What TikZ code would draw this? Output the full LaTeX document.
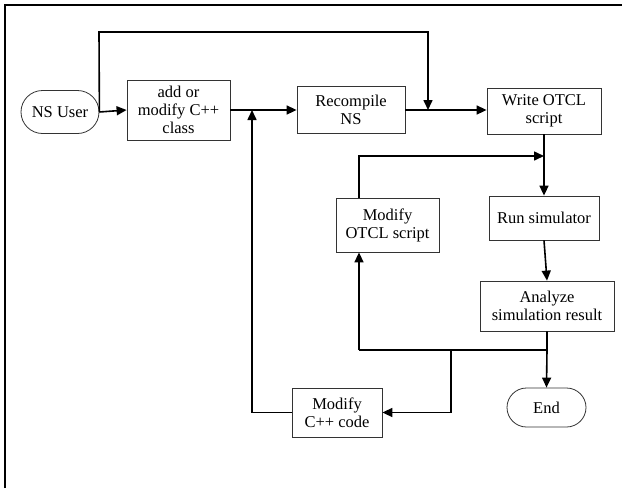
\documentclass[tikz,border=0pt]{standalone}
\usepackage{fontspec}
\setmainfont{Liberation Serif}
\usetikzlibrary{arrows.meta,shapes.misc}
\begin{document}
\begin{tikzpicture}[x=1pt,y=-1pt,
  box/.style={draw=black!80,line width=0.8pt,rectangle,inner sep=0pt,align=center,font=\fontsize{16.5}{18}\selectfont},
  term/.style={draw=black!80,line width=0.8pt,rounded rectangle,inner sep=0pt,align=center,font=\fontsize{16.5}{18}\selectfont},
  conn/.style={line width=1.6pt},
  arr/.style={conn,-{Triangle[length=10pt,width=9pt]}}]
\useasboundingbox (0,0) rectangle (622,488);
\draw[line width=2pt] (5,488) -- (5,5) -- (622,5);

\node[term,minimum width=78pt,minimum height=43pt] (user) at (60,112) {NS User};
\node[box,minimum width=103pt,minimum height=60pt] (add) at (178.5,110) {add or\\modify C++\\class};
\node[box,minimum width=108pt,minimum height=47pt] (recomp) at (351,110) {Recompile\\NS};
\node[box,minimum width=114pt,minimum height=46pt] (write) at (544,111) {Write OTCL\\script};
\node[box,minimum width=103pt,minimum height=54pt] (modotcl) at (387.5,225) {Modify\\OTCL script};
\node[box,minimum width=110pt,minimum height=44pt] (run) at (544,218) {Run simulator};
\node[box,minimum width=134pt,minimum height=50pt] (analyze) at (547,306) {Analyze\\simulation result};
\node[box,minimum width=90pt,minimum height=49pt] (modcpp) at (337,412.5) {Modify\\C++ code};
\node[term,minimum width=79pt,minimum height=39pt] (end) at (546.5,407.5) {End};

\coordinate (j1) at (428,110);
\coordinate (j2) at (252,110);
\coordinate (j3) at (544,156);
\coordinate (j4) at (547,350);
\coordinate (j5) at (451,350);
\coordinate (j6) at (359,350);

\draw[arr] (user.east) -- (add.west);
\draw[arr] (add.east) -- (recomp.west);
\draw[arr] (recomp.east) -- (recomp.east -| write.west);
\draw[arr] (user.east) -- (99,32) -- (428,32) -- (j1);
\draw[arr] (modcpp.west) -- (j2 |- modcpp.west) -- (j2);
\draw[arr] (write.south) -- (run.north);
\draw[arr] (j6 |- modotcl.north) -- (359,156) -- (j3);
\draw[arr] (run.south) -- (analyze.north);
\draw[arr] (analyze.south) -- (j4) -- (end.north);
\draw[conn] (j4) -- (j6);
\draw[arr] (j6) -- (j6 |- modotcl.south);
\draw[arr] (j5) -- (j5 |- modcpp.east) -- (modcpp.east);
\end{tikzpicture}
\end{document}
